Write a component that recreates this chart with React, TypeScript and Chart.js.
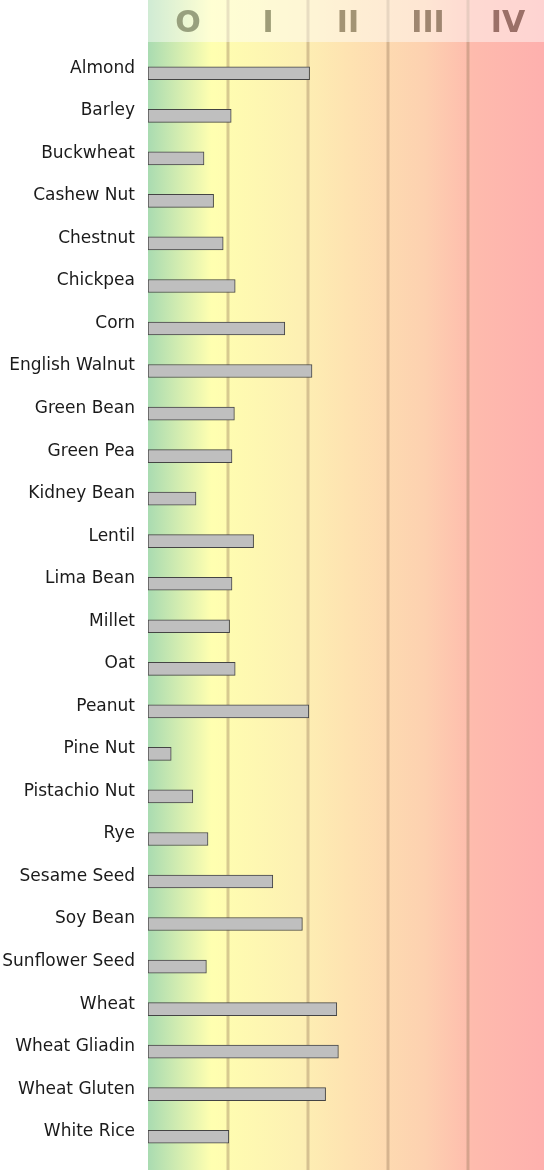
import React, { useEffect, useRef } from "react";
import { Chart, registerables } from "chart.js";

Chart.register(...registerables);

const CATEGORIES = [
  "Almond", "Barley", "Buckwheat", "Cashew Nut", "Chestnut", "Chickpea", "Corn",
  "English Walnut", "Green Bean", "Green Pea", "Kidney Bean", "Lentil", "Lima Bean",
  "Millet", "Oat", "Peanut", "Pine Nut", "Pistachio Nut", "Rye", "Sesame Seed",
  "Soy Bean", "Sunflower Seed", "Wheat", "Wheat Gliadin", "Wheat Gluten", "White Rice",
];

const VALUES = [
  2.02, 1.04, 0.7, 0.82, 0.94, 1.09, 1.71,
  2.05, 1.08, 1.05, 0.6, 1.32, 1.05,
  1.02, 1.09, 2.01, 0.29, 0.56, 0.75, 1.56,
  1.93, 0.73, 2.36, 2.38, 2.22, 1.01,
];

const CLASS_LABELS = ["O", "I", "II", "III", "IV"];
const CLASS_COLORS = ["#98a07e", "#9e9c78", "#a39474", "#9f8670", "#9b7068"];

const backgroundPlugin = {
  id: "classBackground",
  beforeDraw(chart: any) {
    const { ctx, chartArea, scales } = chart;
    const x = scales.x;
    const left = chartArea.left;
    const right = chart.width;
    const top = 0;
    const bottom = chart.height;
    ctx.save();
    const g = ctx.createLinearGradient(left, 0, right, 0);
    g.addColorStop(0, "#a9dbb1");
    g.addColorStop(0.16, "#ffffb0");
    g.addColorStop(0.38, "#fdf0b3");
    g.addColorStop(0.5, "#fee3b1");
    g.addColorStop(0.7, "#fdd1b0");
    g.addColorStop(0.82, "#febbad");
    g.addColorStop(1, "#feb0ae");
    ctx.fillStyle = g;
    ctx.fillRect(left, top, right - left, bottom - top);
    // class boundary lines
    ctx.lineWidth = 3;
    ctx.strokeStyle = "rgba(150,120,90,0.38)";
    for (let i = 1; i < CLASS_LABELS.length; i++) {
      const px = Math.round(x.getPixelForValue(i));
      ctx.beginPath();
      ctx.moveTo(px, top);
      ctx.lineTo(px, bottom);
      ctx.stroke();
    }
    // header band
    ctx.fillStyle = "rgba(255,255,255,0.45)";
    ctx.fillRect(left, 0, right - left, 42);
    ctx.font = "bold 30px 'DejaVu Sans'";
    ctx.textAlign = "center";
    ctx.textBaseline = "middle";
    CLASS_LABELS.forEach((lab, i) => {
      ctx.fillStyle = CLASS_COLORS[i];
      ctx.fillText(lab, x.getPixelForValue(i + 0.5), 24);
    });
    ctx.restore();
  },
};

export default function App() {
  const ref = useRef<HTMLCanvasElement | null>(null);
  useEffect(() => {
    if (!ref.current) return;
    Chart.defaults.font.family = "'DejaVu Sans'";
    const chart = new Chart(ref.current, {
      type: "bar",
      data: {
        labels: CATEGORIES,
        datasets: [
          {
            data: VALUES,
            backgroundColor: "#bfbfbf",
            borderColor: "#444444",
            borderWidth: 1,
            borderSkipped: false,
            barThickness: 13,
          },
        ],
      },
      options: {
        indexAxis: "y",
        responsive: false,
        animation: false,
        layout: { padding: { top: 52, bottom: 12, left: 0, right: 0 } },
        plugins: { legend: { display: false }, tooltip: { enabled: false } },
        scales: {
          x: {
            min: 0,
            max: 4.95,
            display: false,
          },
          y: {
            grid: { display: false, drawTicks: false },
            border: { display: false },
            ticks: {
              color: "#1a1a1a",
              font: { size: 17 },
              padding: 13,
              labelOffset: -5,
              autoSkip: false,
            },
            afterFit(scale: any) {
              scale.width = 148;
              scale.paddingTop = 0;
              scale.paddingBottom = 0;
            },
          },
        },
      },
      plugins: [backgroundPlugin],
    });
    return () => chart.destroy();
  }, []);
  return (
    <div style={{ position: "absolute", left: 0, top: 0, width: 544, height: 1170 }}>
      <canvas ref={ref} width={544} height={1170} />
    </div>
  );
}
